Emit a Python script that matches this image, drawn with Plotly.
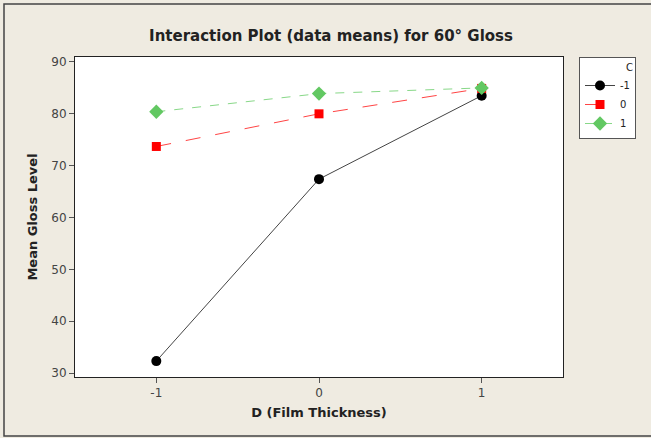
import plotly.graph_objects as go

x_levels = [-1, 0, 1]
x_labels = ["-1", "0", "1"]
c_minus1 = [32.3, 67.4, 83.5]
c_zero = [73.7, 80.0, 84.9]
c_one = [80.4, 83.9, 85.0]
series_names = ["-1", "0", "1"]
y_ticks = [30, 40, 50, 60, 70, 80, 90]

BG = "#EFEBE1"
FONT = "DejaVu Sans"

fig = go.Figure()
fig.add_trace(go.Scatter(
    x=x_levels, y=c_minus1, name=series_names[0], mode="lines+markers",
    line=dict(color="#444444", width=1, dash="solid"),
    marker=dict(symbol="circle", size=10, color="black"),
))
fig.add_trace(go.Scatter(
    x=x_levels, y=c_zero, name=series_names[1], mode="lines+markers",
    line=dict(color="#FF4444", width=1, dash="longdash"),
    marker=dict(symbol="square", size=9, color="#FF0000"),
))
fig.add_trace(go.Scatter(
    x=x_levels, y=c_one, name=series_names[2], mode="lines+markers",
    line=dict(color="#88D888", width=1, dash="dash"),
    marker=dict(symbol="diamond", size=11, color="#62C862"),
))

fig.update_layout(
    width=651, height=438,
    paper_bgcolor=BG, plot_bgcolor="white",
    margin=dict(l=75, r=88, t=57, b=61, autoexpand=False),
    font=dict(family=FONT, size=12, color="#333333"),
    title=dict(text="<b>Interaction Plot (data means) for 60° Gloss</b>",
               x=331 / 651, xref="container", xanchor="center", y=1 - 36 / 438, yref="container",
               yanchor="middle", font=dict(family=FONT, size=15, color="#222222")),
    showlegend=True,
    legend=dict(
        x=(579 - 75) / 488, y=1, xanchor="left", yanchor="top",
        bgcolor="white", bordercolor="#555555", borderwidth=1,
        font=dict(family=FONT, size=10, color="#222222"),
        title=dict(text="C", side="top right", font=dict(family=FONT, size=10, color="#222222")),
        itemwidth=30, tracegroupgap=0,
    ),
    xaxis=dict(
        range=[-1.5, 1.5], tickvals=x_levels, ticktext=x_labels,
        showgrid=False, zeroline=False,
        showline=True, linecolor="#222222", linewidth=1, mirror=True,
        ticks="outside", ticklen=5, tickcolor="#555555",
        tickfont=dict(family=FONT, size=12, color="#444444"),
        title=dict(text="<b>D (Film Thickness)</b>", standoff=8,
                   font=dict(family=FONT, size=13, color="#222222")),
    ),
    yaxis=dict(
        range=[29.23, 90.96], tickvals=y_ticks,
        showgrid=False, zeroline=False,
        showline=True, linecolor="#222222", linewidth=1, mirror=True,
        ticks="outside", ticklen=5, tickcolor="#555555",
        tickfont=dict(family=FONT, size=12, color="#444444"),
        title=dict(text="<b>Mean Gloss Level</b>", standoff=10,
                   font=dict(family=FONT, size=13, color="#222222")),
    ),
)

# outer frame
fig.add_shape(type="rect", xref="paper", yref="paper",
              x0=(4 - 75) / 488, x1=(660 - 75) / 488,
              y0=-(436 - 377) / 320, y1=1 + (57 - 4) / 320,
              line=dict(color="#444444", width=1.5), fillcolor="rgba(0,0,0,0)", layer="below")

fig.write_html("out.html", config={"displayModeBar": False},
               post_script="document.body.style.margin='0px';document.body.style.padding='0px';document.body.style.overflow='hidden';")
